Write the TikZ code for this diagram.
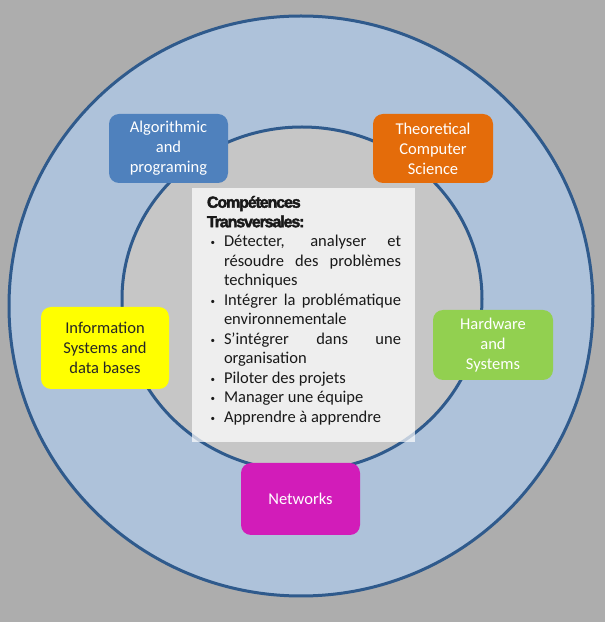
\documentclass[tikz,border=0pt]{standalone}
\usepackage{fontspec}
\setmainfont{Carlito}
\newfontfamily\headfont{Liberation Sans}[BoldFeatures={FakeBold=2.5, LetterSpace=-7}]
\usepackage{enumitem}

\definecolor{bgGrey}{HTML}{ADADAD}
\definecolor{ringBlue}{HTML}{AEC2DA}
\definecolor{coreGrey}{HTML}{C6C6C6}
\definecolor{rimBlue}{HTML}{2F5A8C}
\definecolor{algoBlue}{HTML}{4F81BD}
\definecolor{theoOrange}{HTML}{E46C0A}
\definecolor{infoYellow}{HTML}{FFFF00}
\definecolor{hardGreen}{HTML}{92D050}
\definecolor{netMagenta}{HTML}{D21CB9}

\begin{document}
\begin{tikzpicture}[x=1pt, y=1pt,
  fieldbox/.style={rounded corners=10pt, align=center, inner sep=0pt,
    minimum width=120pt, minimum height=70pt, text=white,
    font=\fontsize{16.5}{20}\selectfont},
  rim/.style={draw=rimBlue, line width=3pt}]

  % background and the two circles
  \fill[bgGrey] (0,0) rectangle (605,622);
  \useasboundingbox (0,0) rectangle (605,622);
  \draw[rim, fill=ringBlue] (301,316) ellipse [x radius=292, y radius=290];
  \draw[rim, fill=coreGrey] (302,323) ellipse [x radius=180, y radius=172];

  % the five fields
  \node[fieldbox, fill=algoBlue, minimum width=119pt, minimum height=69pt] (algo)
    at (168.5,473.5) {Algorithmic\\and\\programing};
  \node[fieldbox, fill=theoOrange, minimum height=69pt] (theo)
    at (433,473.5) {Theoretical\\Computer\\Science};
  \node[fieldbox, fill=infoYellow, text=black!85, minimum width=128pt, minimum height=82pt] (info)
    at (105,274) {Information\\Systems and\\data bases};
  \node[fieldbox, fill=hardGreen] (hard)
    at (493,277) {Hardware\\and\\Systems};
  \node[fieldbox, fill=netMagenta, minimum width=119pt, minimum height=72pt] (net)
    at (300.5,123) {Networks};

  % centre panel
  \node[fill=white, fill opacity=0.7, minimum width=223pt, minimum height=254pt,
    inner sep=0pt] (panel) at (303.5,307) {};
  \node[anchor=north west, text width=194pt, inner sep=0pt, align=justify,
    text=black!90, font=\fontsize{16.5}{19.5}\selectfont] (skills)
    at ([xshift=15pt, yshift=-8pt]panel.north west)
  {{\headfont\bfseries\fontsize{16}{20}\selectfont Compétences\\Transversales:}\par
   \begin{itemize}[nosep, leftmargin=17pt, labelsep=9pt,
       label=\raisebox{.1ex}{\small\textbullet}]
     \item Détecter, analyser et\linebreak résoudre des problèmes\linebreak techniques
     \item Intégrer la problématique\linebreak environnementale
     \item S’intégrer dans une\linebreak organisation
     \item Piloter des projets
     \item Manager une équipe
     \item Apprendre à apprendre
   \end{itemize}};
\end{tikzpicture}
\end{document}
